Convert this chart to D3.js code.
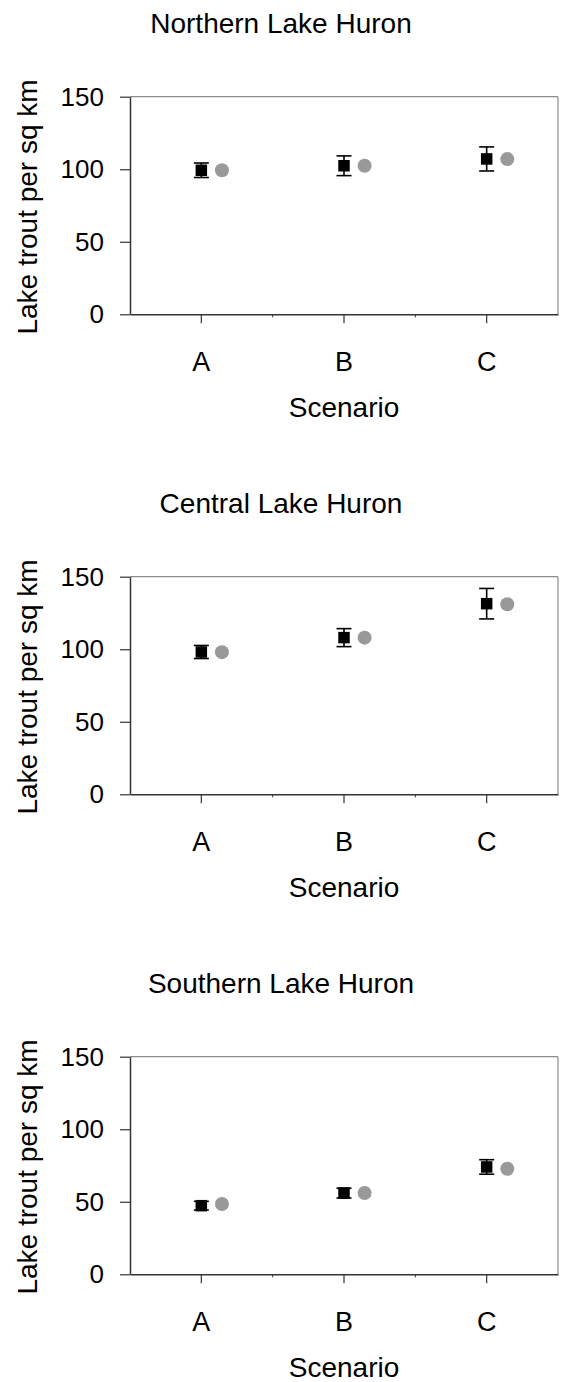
<!DOCTYPE html>
<html>
<head>
<meta charset="utf-8">
<script src="https://cdn.jsdelivr.net/npm/d3@7"></script>
<style>
html, body { margin: 0; padding: 0; background: #fff; }
svg text { font-family: "Liberation Sans", Arial, sans-serif; fill: #000; }
</style>
</head>
<body>
<svg id="chart" width="562" height="1382"></svg>
<script>
const scenarios = ["A", "B", "C"];
const regionTitles = ["Northern Lake Huron", "Central Lake Huron", "Southern Lake Huron"];
const yTicks = [0, 50, 100, 150];
const yTitle = "Lake trout per sq km";
const xTitle = "Scenario";

// black squares (with error bars)
const northMean = [99.3, 102.4, 107.1];
const northErr = [5.0, 6.8, 8.3];
const northGrey = [99.3, 102.4, 107.0];

const centralMean = [98.1, 108.0, 131.4];
const centralErr = [4.5, 6.2, 10.5];
const centralGrey = [98.0, 108.0, 131.0];

const southMean = [47.3, 56.0, 74.0];
const southErr = [3.0, 3.4, 5.0];
const southGrey = [48.5, 56.0, 72.8];

const panels = [
  { title: regionTitles[0], mean: northMean, err: northErr, grey: northGrey },
  { title: regionTitles[1], mean: centralMean, err: centralErr, grey: centralGrey },
  { title: regionTitles[2], mean: southMean, err: southErr, grey: southGrey }
];

const svg = d3.select("#chart");
const W = 562;
const left = 130, right = 558;
const panelTop = 96.7, panelBottom = 314.3, panelStep = 480;

const x = d3.scaleBand().domain(scenarios).range([left, right]).paddingInner(0).paddingOuter(0);
const fontSize = 28;
const ff = '"Liberation Sans", Arial, sans-serif';

panels.forEach((p, i) => {
  const off = i * panelStep;
  const g = svg.append("g").attr("transform", `translate(0,${off})`);
  const y = d3.scaleLinear().domain([0, 150]).range([panelBottom, panelTop]);

  // title
  g.append("text").attr("x", W / 2).attr("y", 33).attr("text-anchor", "middle")
    .style("font-size", fontSize + "px").text(p.title);

  // frame top/right (grey)
  g.append("line").attr("x1", left).attr("x2", right).attr("y1", y(150)).attr("y2", y(150))
    .attr("stroke", "#8c8c8c").attr("stroke-width", 1.2);
  g.append("line").attr("x1", right).attr("x2", right).attr("y1", y(150)).attr("y2", y(0))
    .attr("stroke", "#8c8c8c").attr("stroke-width", 1.2);

  // y axis
  const yAxis = g.append("g").attr("transform", `translate(${left},0)`)
    .call(d3.axisLeft(y).tickValues(yTicks).tickSize(10).tickPadding(16).tickSizeOuter(0));
  yAxis.select(".domain").attr("stroke", "#333").attr("stroke-width", 1.5);
  yAxis.selectAll(".tick line").attr("stroke", "#333").attr("stroke-width", 1.2);
  yAxis.selectAll(".tick text").style("font-size", "26px")
    .style("font-family", ff).attr("fill", "#000");

  // x axis
  const xAxis = g.append("g").attr("transform", `translate(0,${panelBottom})`)
    .call(d3.axisBottom(x).tickSize(9).tickPadding(29).tickSizeOuter(0));
  xAxis.select(".domain").attr("stroke", "#333").attr("stroke-width", 1.5);
  xAxis.selectAll(".tick line").attr("stroke", "#333").attr("stroke-width", 1.2);
  xAxis.selectAll(".tick text").style("font-size", "27px")
    .style("font-family", ff).attr("fill", "#000");
  // minor ticks at category boundaries
  const bounds = scenarios.slice(1).map(s => x(s));
  g.selectAll(".minor").data(bounds).enter().append("line")
    .attr("x1", d => d).attr("x2", d => d)
    .attr("y1", panelBottom).attr("y2", panelBottom + 3)
    .attr("stroke", "#333").attr("stroke-width", 1);

  // axis titles
  g.append("text").attr("x", (left + right) / 2).attr("y", 417).attr("text-anchor", "middle")
    .style("font-size", fontSize + "px").text(xTitle);
  g.append("text").attr("transform", `translate(37,207) rotate(-90)`)
    .attr("text-anchor", "middle").style("font-size", fontSize + "px").text(yTitle);

  const cx = s => x(s) + x.bandwidth() / 2;
  const sq = 11.5, cap = 7.5, circOff = 20.6;

  // error bars
  const eb = g.append("g");
  scenarios.forEach((s, j) => {
    const m = p.mean[j], e = p.err[j], c = cx(s);
    eb.append("line").attr("x1", c).attr("x2", c).attr("y1", y(m + e)).attr("y2", y(m - e))
      .attr("stroke", "#000").attr("stroke-width", 1.6);
    [m + e, m - e].forEach(v => {
      eb.append("line").attr("x1", c - cap).attr("x2", c + cap).attr("y1", y(v)).attr("y2", y(v))
        .attr("stroke", "#000").attr("stroke-width", 1.6);
    });
  });

  // squares
  g.selectAll(".sq").data(scenarios).enter().append("rect")
    .attr("x", s => cx(s) - sq / 2)
    .attr("y", (s, j) => y(p.mean[j]) - sq / 2)
    .attr("width", sq).attr("height", sq).attr("fill", "#000");

  // grey circles
  g.selectAll(".circ").data(scenarios).enter().append("circle")
    .attr("cx", s => cx(s) + circOff)
    .attr("cy", (s, j) => y(p.grey[j]))
    .attr("r", 7).attr("fill", "#999999");
});
</script>
</body>
</html>
